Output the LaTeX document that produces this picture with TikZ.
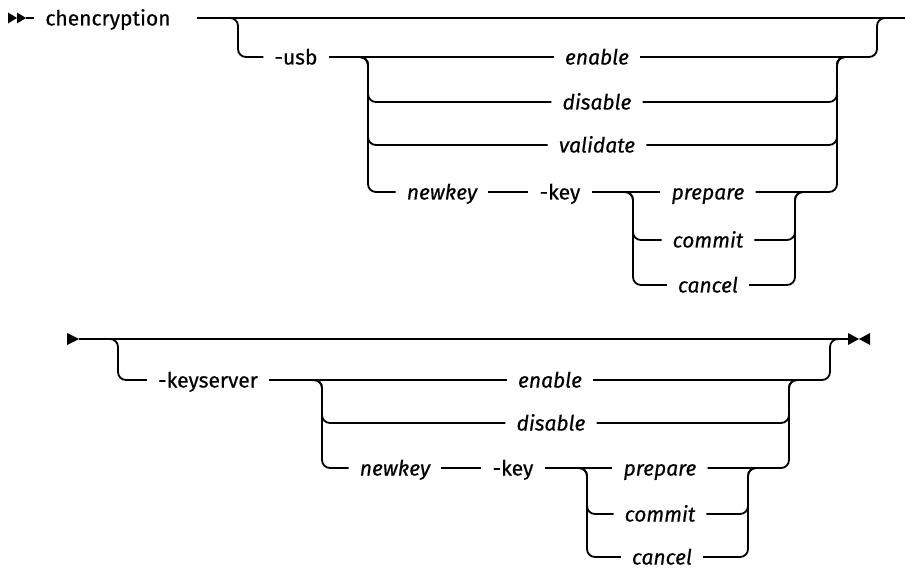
\documentclass[tikz,border=0pt]{standalone}
\usepackage{fontspec}
\setmainfont{Fira Sans}[FakeBold=0.5]
\begin{document}
\begin{tikzpicture}[x=1pt, y=-1pt]
  \tikzset{
    rail/.style={line width=1.8pt, rounded corners=8pt},
    kw/.style={font=\fontsize{21}{26}\selectfont, inner xsep=11pt, inner ysep=1pt,
      text height=15pt, text depth=0pt},
    arg/.style={kw, font=\fontsize{21}{26}\selectfont\itshape},
  }
  \useasboundingbox (0,0) rectangle (905,569);

  % junction columns of first line
  \coordinate (top0) at (197,18);
  \coordinate (top9) at (905,18);
  \coordinate (aL) at (238,18);
  \coordinate (aR) at (877,18);
  \coordinate (bL) at (368,57);
  \coordinate (bR) at (837,57);
  \coordinate (cL) at (633,192);
  \coordinate (cR) at (795,192);

  % keywords and values of first line
  \node[kw] (cmd) at (108,18) {chencryption};
  \node[kw] (usb) at (296,57) {-usb};
  \node[arg] (en1) at (597,57) {enable};
  \node[arg] (dis1) at (597,102) {disable};
  \node[arg] (val1) at (597,145) {validate};
  \node[arg] (nk1) at (442,192) {newkey};
  \node[kw] (key1) at (560,192) {-key};
  \node[arg] (pre1) at (708,192) {prepare};
  \node[arg] (com1) at (708,240) {commit};
  \node[arg] (can1) at (708,285) {cancel};

  % start marker
  \fill (8,12.5) -- (17,18) -- (8,23.5) -- cycle;
  \fill (17,12.5) -- (26,18) -- (17,23.5) -- cycle;
  \draw[rail] (26,18) -- (cmd);

  % main rail
  \draw[rail] (top0) -- (top9);
  \draw[rail] ([xshift=-8pt]aL) -- (aL) |- (usb.west);
  \draw[rail] (usb) -- (en1);
  \draw[rail] (en1) -- (aR |- en1) -- (aR) -- ([xshift=8pt]aR);

  % -usb choices
  \foreach \r in {dis1,val1,nk1}
    \draw[rail] ([xshift=-8pt]bL) -- (bL) |- (\r.west);
  \foreach \r in {dis1,val1,pre1}
    \draw[rail] (\r.east) -| (bR) -- ([xshift=8pt]bR);
  \draw[rail] (nk1) -- (key1);
  \draw[rail] (key1) -- (pre1);

  % -key steps
  \foreach \r in {com1,can1} {
    \draw[rail] ([xshift=-8pt]cL) -- (cL) |- (\r.west);
    \draw[rail] (\r.east) -| (cR) -- ([xshift=8pt]cR);
  }

  % junction columns of second line
  \coordinate (bot0) at (79,339);
  \coordinate (bot9) at (848,339);
  \coordinate (dL) at (118,339);
  \coordinate (dR) at (830,339);
  \coordinate (eL) at (322,380);
  \coordinate (eR) at (789,380);
  \coordinate (fL) at (587,468);
  \coordinate (fR) at (748,468);

  % keywords and values of second line
  \node[kw] (ks) at (208,380) {-keyserver};
  \node[arg] (en2) at (550,380) {enable};
  \node[arg] (dis2) at (551,423) {disable};
  \node[arg] (nk2) at (395,468) {newkey};
  \node[kw] (key2) at (513,468) {-key};
  \node[arg] (pre2) at (660,468) {prepare};
  \node[arg] (com2) at (660,514) {commit};
  \node[arg] (can2) at (662,557) {cancel};

  % continuation and end markers
  \fill (67,333) -- (79,339) -- (67,345) -- cycle;
  \fill (848,333) -- (859,339) -- (848,345) -- cycle;
  \fill (870,333) -- (859,339) -- (870,345) -- cycle;

  % main rail
  \draw[rail] (bot0) -- (bot9);
  \draw[rail] ([xshift=-8pt]dL) -- (dL) |- (ks.west);
  \draw[rail] (ks) -- (en2);
  \draw[rail] (en2) -- (dR |- en2) -- (dR) -- ([xshift=8pt]dR);

  % -keyserver choices
  \foreach \r in {dis2,nk2}
    \draw[rail] ([xshift=-8pt]eL) -- (eL) |- (\r.west);
  \foreach \r in {dis2,pre2}
    \draw[rail] (\r.east) -| (eR) -- ([xshift=8pt]eR);
  \draw[rail] (nk2) -- (key2);
  \draw[rail] (key2) -- (pre2);

  % -key steps
  \foreach \r in {com2,can2} {
    \draw[rail] ([xshift=-8pt]fL) -- (fL) |- (\r.west);
    \draw[rail] (\r.east) -| (fR) -- ([xshift=8pt]fR);
  }
\end{tikzpicture}
\end{document}
